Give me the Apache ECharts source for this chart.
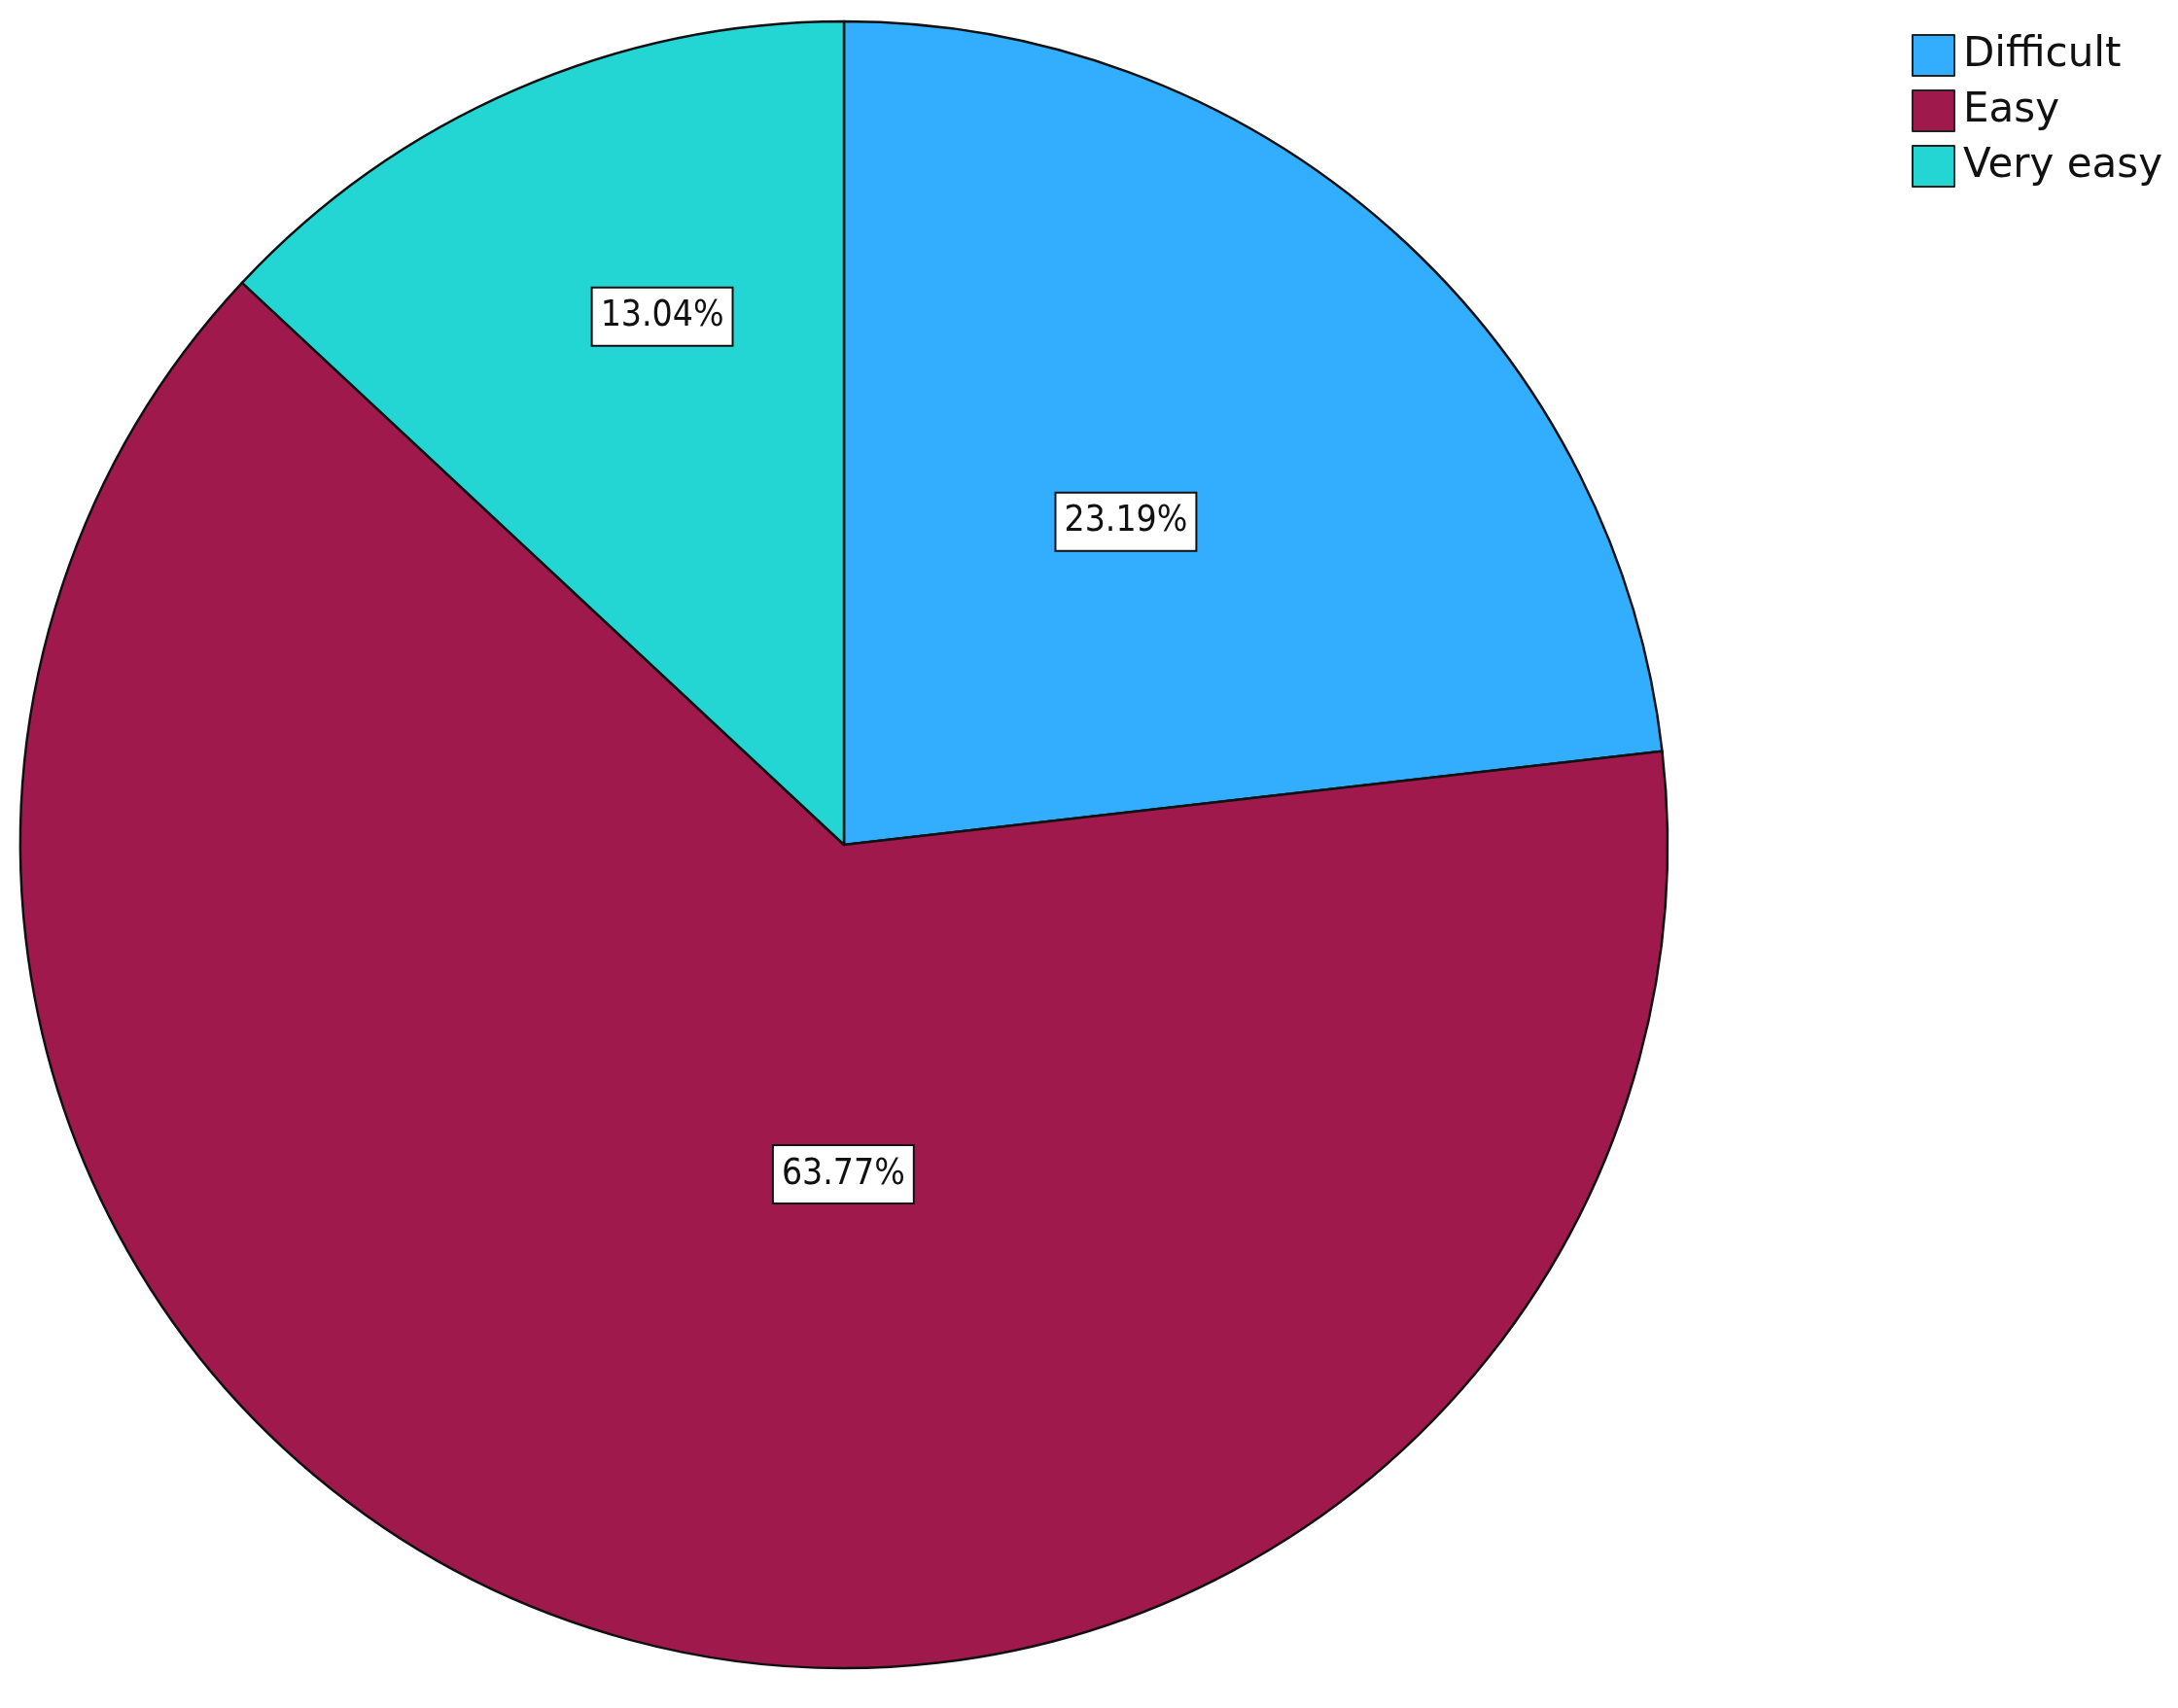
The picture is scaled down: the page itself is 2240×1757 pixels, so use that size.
<!DOCTYPE html>
<html>
<head>
<meta charset="utf-8">
<script src="https://cdn.jsdelivr.net/npm/echarts@6/dist/echarts.min.js"></script>
<style>
  html, body { margin: 0; padding: 0; background: #fff; }
  #chart { width: 2240px; height: 1757px; }
</style>
</head>
<body>
<div id="chart"></div>
<script>
  // counts per answer (n = 69)
  const categories = ['Difficult', 'Easy', 'Very easy']
  const counts = [16, 44, 9]
  const colors = ['#33AEFE', '#A0194C', '#23D5D3']

  let myChart = echarts.init(document.getElementById('chart'))

  // nudge labels to where the original tool placed them
  const labelNudge = [[6, -14], [133, -66], [-17, -152]]

  let options = {
    animation: false,
    legend: {
      orient: 'vertical',
      left: 1961,
      top: 30,
      icon: 'rect',
      itemWidth: 43,
      itemHeight: 42,
      itemGap: 13,
      itemStyle: { borderColor: '#222', borderWidth: 2 },
      textStyle: {
        fontFamily: 'DejaVu Sans',
        fontSize: 42,
        lineHeight: 42,
        color: '#111',
        padding: [0, 0, 0, 4]
      },
      data: categories
    },
    series: [
      {
        type: 'pie',
        center: [868, 869],
        radius: 847,
        startAngle: 90,
        clockwise: true,
        silent: true,
        itemStyle: { borderColor: '#111', borderWidth: 2.5 },
        label: {
          show: true,
          position: 'inside',
          formatter: '{d}%',
          fontFamily: 'DejaVu Sans Condensed',
          fontSize: 37,
          lineHeight: 44,
          color: '#111',
          backgroundColor: '#fff',
          borderColor: '#111',
          borderWidth: 2,
          padding: [7, 8, 7, 8]
        },
        labelLine: { show: false },
        labelLayout: function (params) {
          let n = labelNudge[params.dataIndex]
          return { dx: n[0], dy: n[1] }
        },
        data: categories.map((c, i) => ({
          name: c,
          value: counts[i],
          itemStyle: { color: colors[i] }
        }))
      }
    ]
  }
  myChart.setOption(options)
</script>
</body>
</html>
